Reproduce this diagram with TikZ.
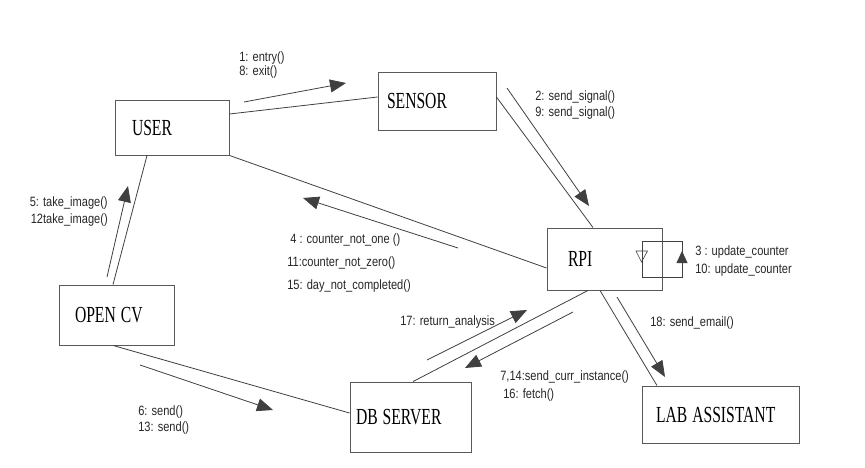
\documentclass[tikz,border=0pt]{standalone}
\usepackage{fontspec}
\newfontfamily\boxfont[FakeStretch=0.68]{Liberation Serif}
\newfontfamily\msgfont[FakeStretch=0.82]{Liberation Sans}
\usetikzlibrary{arrows.meta}
\newcommand{\wgap}{\hspace{5pt}}

\begin{document}
\begin{tikzpicture}[x=1pt,y=-1pt,semithick]

  \tikzstyle{obj}=[rectangle,draw=black!65,line width=0.9pt,align=left,
                   text=black,font=\boxfont\fontsize{23}{23}\selectfont]
  \tikzstyle{link}=[draw=black!75,line width=0.8pt]
  \tikzstyle{msg}=[draw=black!75,line width=0.8pt,
                   -{Triangle[length=16pt,width=13pt]}]
  \tikzstyle{lbl}=[anchor=west,align=left,inner sep=0pt,text=black!85,
                   font=\msgfont\fontsize{13.5}{15}\selectfont]

  \useasboundingbox (0,0) rectangle (865,468);

  % objects
  \node[obj,minimum height=55pt,text width=80pt,inner xsep=17pt]  (user)   at (172,127.5) {USER};
  \node[obj,minimum height=58pt,text width=100pt,inner xsep=9pt]  (sensor) at (437,101)   {SENSOR};
  \node[obj,minimum height=62pt,text width=73pt,inner xsep=21pt]  (rpi)    at (604.5,259) {RPI};
  \node[obj,minimum height=60pt,text width=83pt,inner xsep=16pt]  (opencv) at (116.5,315) {OPEN\wgap CV};
  \node[obj,minimum height=70pt,text width=109pt,inner xsep=6pt]  (db)     at (410.5,417) {DB\wgap SERVER};
  \node[obj,minimum height=57pt,text width=129pt,inner xsep=14pt] (lab)    at (720.5,414.5) {LAB\wgap ASSISTANT};

  % links
  \draw[link] ([yshift=13.5pt]user.east)   -- ([yshift=4pt]sensor.west)
              ([yshift=4pt]sensor.east)    -- ([xshift=-11.5pt]rpi.north)
              (user.south east)            -- ([yshift=-9pt]rpi.west)
              ([xshift=-25pt]user.south)   -- ([xshift=-3.5pt]opencv.north)
              ([xshift=-3.5pt]opencv.south) -- ([yshift=4pt]db.west)
              ([xshift=2.5pt]db.north)     -- ([xshift=-16.5pt]rpi.south)
              ([xshift=-4.5pt]rpi.south)   -- ([xshift=-63.5pt]lab.north);

  % messages
  \coordinate (entry-a)  at (244,102);   \coordinate (entry-b)  at (346,83);
  \coordinate (signal-a) at (507,88);    \coordinate (signal-b) at (589,206);
  \coordinate (count-a)  at (458,248);   \coordinate (count-b)  at (303,198);
  \coordinate (image-a)  at (107,277);   \coordinate (image-b)  at (128,186);
  \coordinate (send-a)   at (140,365);   \coordinate (send-b)   at (273,410);
  \coordinate (ret-a)    at (427,360);   \coordinate (ret-b)    at (527,310);
  \coordinate (inst-a)   at (573,312);   \coordinate (inst-b)   at (465,368);
  \coordinate (mail-a)   at (617,297);   \coordinate (mail-b)   at (665,377);

  \draw[msg] (entry-a)  -- (entry-b);
  \draw[msg] (signal-a) -- (signal-b);
  \draw[msg] (count-a)  -- (count-b);
  \draw[msg] (image-a)  -- (image-b);
  \draw[msg] (send-a)   -- (send-b);
  \draw[msg] (ret-a)    -- (ret-b);
  \draw[msg] (inst-a)   -- (inst-b);
  \draw[msg] (mail-a)   -- (mail-b);

  % self message on RPI
  \draw[link] (642,241) rectangle (682,277);
  \draw[msg,-{Triangle[length=12pt,width=11pt]}] (682,270) -- (682,251);
  \draw[link,line width=0.6pt] (636,251) -- (647.5,251) -- (641.5,262) -- cycle;

  % message labels
  \node[lbl] (l-entry)  at (239,65)    {1: entry()\\[-1pt]8: exit()};
  \node[lbl] (l-signal) at (535,105)   {2: send\_signal()\\[1pt]9: send\_signal()};
  \node[lbl] (l-count)  at (287,263.5) {\hspace*{3pt}4 : counter\_not\_one ()\\[8pt]11:counter\_not\_zero()\\[8pt]15: day\_not\_completed()};
  \node[lbl,anchor=east,align=right] (l-image) at (108,211.5) {5: take\_image()\\[2pt]12take\_image()};
  \node[lbl] (l-send)   at (138,420)   {6: send()\\[1pt]13: send()};
  \node[lbl] (l-ret)    at (400,322)   {17: return\_analysis};
  \node[lbl] (l-inst)   at (500,386)   {7,14:send\_curr\_instance()\\[3pt]\hspace*{3pt}16: fetch()};
  \node[lbl] (l-mail)   at (650,323)   {18: send\_email()};
  \node[lbl] (l-upd)    at (695,261)   {3 : update\_counter\\[3pt]10: update\_counter};
\end{tikzpicture}
\end{document}
